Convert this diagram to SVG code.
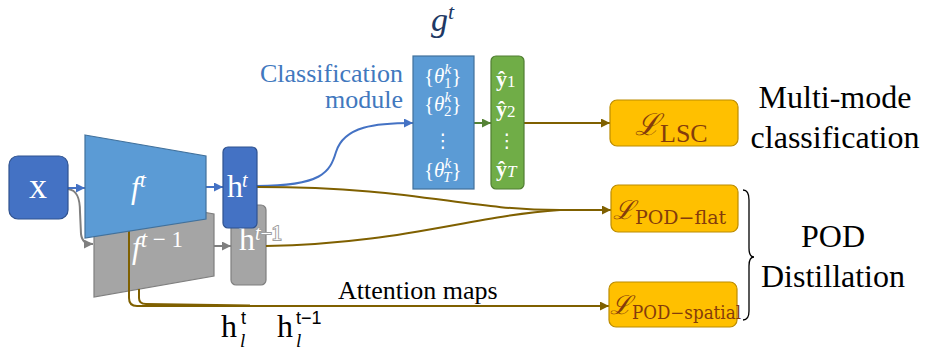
<svg xmlns="http://www.w3.org/2000/svg" width="925" height="352" viewBox="0 0 925 352">
<style>
.serif{font-family:"Liberation Serif","DejaVu Serif",serif}
.wt{fill:#ffffff}
.blk{fill:#000000}
.loss{fill:#843C0C}
.bl{fill:none;stroke:#7F6000;stroke-width:2}
</style>
<defs>
<marker id="mBlue" viewBox="0 0 10 10" refX="10" refY="5" markerWidth="10" markerHeight="9" markerUnits="userSpaceOnUse" orient="auto"><path d="M0,0 L10,5 L0,10 z" fill="#4472C4"/></marker>
<marker id="mGray" viewBox="0 0 10 10" refX="10" refY="5" markerWidth="10" markerHeight="9" markerUnits="userSpaceOnUse" orient="auto"><path d="M0,0 L10,5 L0,10 z" fill="#7F7F7F"/></marker>
<marker id="mGreen" viewBox="0 0 10 10" refX="10" refY="5" markerWidth="10" markerHeight="9" markerUnits="userSpaceOnUse" orient="auto"><path d="M0,0 L10,5 L0,10 z" fill="#548235"/></marker>
<marker id="mBrown" viewBox="0 0 10 10" refX="10" refY="5" markerWidth="10" markerHeight="9" markerUnits="userSpaceOnUse" orient="auto"><path d="M0,0 L10,5 L0,10 z" fill="#7F6000"/></marker>
</defs>

<g id="f_prev">
<polygon points="94,193 214,214 214,276 94,297" fill="#A5A5A5" stroke="#7F7F7F" stroke-width="1.2"/>
<text class="serif wt" x="132" y="258" font-size="31" font-style="italic">f<tspan font-size="23" dy="-11">t</tspan><tspan font-size="23" font-style="normal"> − 1</tspan></text>
</g>
<g id="h_prev">
<rect x="231" y="205" width="35" height="80" rx="5" fill="#A5A5A5" stroke="#7F7F7F" stroke-width="1.2"/>
<text class="serif" x="239" y="250" font-size="32" fill="#ffffff">h<tspan font-size="20" dy="-10" font-style="italic" stroke="#A0A0A0" stroke-width="2" paint-order="stroke">t</tspan><tspan font-size="20" stroke="#A0A0A0" stroke-width="2" paint-order="stroke">−1</tspan></text>
</g>

<g id="connectors">
<path d="M68,189 C77,190 80,198 80,212 L81,234 C82,241 85,244 93,244" fill="none" stroke="#7F7F7F" stroke-width="2" marker-end="url(#mGray)"/>
<path d="M68,188 H85" fill="none" stroke="#4472C4" stroke-width="2" marker-end="url(#mBlue)"/>
<path d="M206,187 H223" fill="none" stroke="#4472C4" stroke-width="2" marker-end="url(#mBlue)"/>
<path d="M214,246 H231" fill="none" stroke="#7F7F7F" stroke-width="2" marker-end="url(#mGray)"/>
<path d="M257,186 C322,186 330,172 336,152 C344,126 376,123 413,123" fill="none" stroke="#4472C4" stroke-width="2" marker-end="url(#mBlue)"/>
<path d="M474,123 H491" fill="none" stroke="#548235" stroke-width="2" marker-end="url(#mGreen)"/>
<path class="bl" d="M524,123 H610" marker-end="url(#mBrown)"/>
<path class="bl" d="M257,187 C420,187 460,210 560,210 L611,210" marker-end="url(#mBrown)"/>
<path class="bl" d="M266,246 C400,244 470,216 560,210"/>
<path class="bl" d="M129,231 V298 Q129,306 137,306 L609,306" marker-end="url(#mBrown)"/>
<path class="bl" d="M139,289 V298 Q139,304 146,304 L250,305.5"/>
</g>

<g id="x">
<rect x="9" y="156" width="59" height="63" rx="9" fill="#4472C4" stroke="#2F528F" stroke-width="1.2"/>
<text class="serif wt" x="38" y="198" font-size="36" text-anchor="middle">x</text>
</g>
<g id="f_t">
<polygon points="85,135 206,156 206,219 85,238" fill="#5B9BD5" stroke="#41719C" stroke-width="1.2"/>
<text class="serif wt" x="131" y="198" font-size="31" font-style="italic">f<tspan font-size="22" dy="-11">t</tspan></text>
</g>
<g id="h_t">
<rect x="223" y="147" width="34" height="81" rx="5" fill="#4472C4" stroke="#2F528F" stroke-width="1.2"/>
<text class="serif wt" x="227" y="197" font-size="32" letter-spacing="-1">h<tspan font-size="20" dy="-10" font-style="italic">t</tspan></text>
</g>

<g id="g_t">
<text class="serif" x="431" y="31" font-size="34" font-style="italic" fill="#203864">g<tspan font-size="22" dy="-12">t</tspan></text>
<text class="serif" font-size="26" fill="#4178BE" text-anchor="end"><tspan x="403" y="82">Classification</tspan><tspan x="403" y="108">module</tspan></text>
<rect x="413" y="56" width="61" height="133" fill="#5B9BD5" stroke="#41719C" stroke-width="1.2"/>
<text class="serif wt" x="424" y="83" font-size="21">{<tspan font-style="italic">θ</tspan><tspan font-size="15" font-style="italic" dy="-9">k</tspan><tspan font-size="15" dx="-7" dy="14">1</tspan><tspan dy="-5">}</tspan></text>
<text class="serif wt" x="424" y="111" font-size="21">{<tspan font-style="italic">θ</tspan><tspan font-size="15" font-style="italic" dy="-9">k</tspan><tspan font-size="15" dx="-7" dy="14">2</tspan><tspan dy="-5">}</tspan></text>
<text x="443" y="147" font-size="19" fill="#ffffff" text-anchor="middle" font-family="DejaVu Sans, sans-serif">⋮</text>
<text class="serif wt" x="424" y="177" font-size="21">{<tspan font-style="italic">θ</tspan><tspan font-size="15" font-style="italic" dy="-9">k</tspan><tspan font-size="15" font-style="italic" dx="-8" dy="14">T</tspan><tspan dy="-5">}</tspan></text>
</g>
<g id="y_hat">
<rect x="491" y="56" width="33" height="133" rx="5" fill="#70AD47" stroke="#507E32" stroke-width="1.2"/>
<text class="serif wt" x="496" y="86" font-size="22" font-weight="bold">ŷ<tspan font-weight="normal" font-size="17" dy="1">1</tspan></text>
<text class="serif wt" x="496" y="116" font-size="22" font-weight="bold">ŷ<tspan font-weight="normal" font-size="17" dy="1">2</tspan></text>
<text x="507" y="147" font-size="19" fill="#ffffff" text-anchor="middle" font-family="DejaVu Sans, sans-serif">⋮</text>
<text class="serif wt" x="496" y="176" font-size="22" font-weight="bold">ŷ<tspan font-weight="normal" font-style="italic" font-size="17" dy="1">T</tspan></text>
</g>

<g id="L_LSC">
<rect x="610" y="100" width="128" height="46" rx="7" fill="#FFC000" stroke="#BC8C00" stroke-width="1.2"/>
<text class="serif loss" x="635" y="135" font-size="30" font-style="italic">ℒ<tspan font-style="normal" font-size="26" dy="7">LSC</tspan></text>
</g>
<g id="L_POD_flat">
<rect x="611" y="185" width="127" height="47" rx="7" fill="#FFC000" stroke="#BC8C00" stroke-width="1.2"/>
<text class="loss" x="613" y="219" font-size="26" font-style="italic" font-family="Liberation Serif, DejaVu Serif, serif">ℒ<tspan font-style="normal" font-size="19" dy="5" font-family="DejaVu Serif, serif">POD−flat</tspan></text>
</g>
<g id="L_POD_spatial">
<rect x="609" y="282" width="128" height="45" rx="7" fill="#FFC000" stroke="#BC8C00" stroke-width="1.2"/>
<text class="loss" x="610" y="314" font-size="26" font-style="italic" font-family="Liberation Serif, DejaVu Serif, serif">ℒ<tspan font-style="normal" font-size="18" dy="5" font-family="DejaVu Serif, serif" textLength="109" lengthAdjust="spacingAndGlyphs">POD−spatial</tspan></text>
</g>

<g id="labels">
<text class="serif blk" font-size="32" text-anchor="middle"><tspan x="835" y="108">Multi-mode</tspan><tspan x="835" y="148">classification</tspan></text>
<path d="M743,190 Q749,190 749,200 L749,248 Q749,257 754,257 Q749,257 749,266 L749,311 Q749,320 743,320" fill="none" stroke="#000" stroke-width="1.3"/>
<text class="serif blk" font-size="32" text-anchor="middle"><tspan x="833" y="247">POD</tspan><tspan x="833" y="287">Distillation</tspan></text>
<text class="serif blk" x="338" y="299" font-size="26">Attention maps</text>
<text class="serif blk" x="221" y="337" font-size="32">h<tspan x="241" y="324" font-size="18" font-family="Liberation Sans, sans-serif">t</tspan><tspan x="240" y="347" font-size="19" font-style="italic">l</tspan></text>
<text class="serif blk" x="277" y="337" font-size="32">h<tspan x="296" y="324" font-size="18" font-family="Liberation Sans, sans-serif">t−1</tspan><tspan x="296" y="347" font-size="19" font-style="italic">l</tspan></text>
</g>
</svg>
